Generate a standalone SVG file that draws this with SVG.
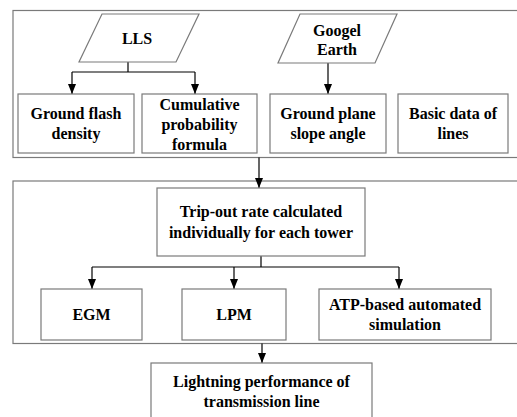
<svg xmlns="http://www.w3.org/2000/svg" width="517" height="417" viewBox="0 0 517 417">
<style>
.frame{fill:none;stroke:#7a7a7a;stroke-width:1.2}
.box{fill:#fff;stroke:#7a7a7a;stroke-width:1.2}
.c{fill:none;stroke:#000;stroke-width:1.2}
text{font-family:'Liberation Serif','DejaVu Serif',serif;font-weight:bold;font-size:16px;fill:#000;text-anchor:middle}
</style>
<defs>
<marker id="ah" viewBox="0 0 10 8" refX="10" refY="4" markerWidth="10" markerHeight="8" markerUnits="userSpaceOnUse" orient="auto">
<path d="M0,0 L10,4 L0,8 Z" fill="#000"/>
</marker>
</defs>
<rect fill="#fff" x="0" y="0" width="517" height="417"/>
<g id="frames">
<rect class="frame" x="13" y="10.5" width="520" height="147"/>
<rect class="frame" x="13" y="181" width="520" height="162.5"/>
</g>
<g id="connectors">
<path class="c" d="M128,62 V72 M72,72 H195"/>
<path class="c" d="M72,72 V94" marker-end="url(#ah)"/>
<path class="c" d="M195,72 V94" marker-end="url(#ah)"/>
<path class="c" d="M328,63 V94" marker-end="url(#ah)"/>
<path class="c" d="M259,157.5 V188" marker-end="url(#ah)"/>
<path class="c" d="M261,256 V267 M92,267 H399"/>
<path class="c" d="M92,267 V289" marker-end="url(#ah)"/>
<path class="c" d="M234,267 V289" marker-end="url(#ah)"/>
<path class="c" d="M399,267 V289" marker-end="url(#ah)"/>
<path class="c" d="M262,343.5 V363" marker-end="url(#ah)"/>
</g>
<g id="lls">
<polygon class="box" points="102,14 199,14 176,62 79,62"/>
<text x="137" y="44">LLS</text>
</g>
<g id="google">
<polygon class="box" points="300,14 397,14 375,63 278,63"/>
<text x="337" y="36">Googel</text>
<text x="337" y="55">Earth</text>
</g>
<g id="gfd">
<rect class="box" x="18" y="94" width="116" height="59"/>
<text x="76" y="119">Ground flash</text>
<text x="76" y="139">density</text>
</g>
<g id="cpf">
<rect class="box" x="142" y="94" width="115" height="59"/>
<text x="199.5" y="110">Cumulative</text>
<text x="199.5" y="130">probability</text>
<text x="199.5" y="150">formula</text>
</g>
<g id="gpsa">
<rect class="box" x="270" y="94" width="116" height="59"/>
<text x="328" y="119">Ground plane</text>
<text x="328" y="139">slope angle</text>
</g>
<g id="bdl">
<rect class="box" x="398" y="94" width="110" height="59"/>
<text x="453" y="119">Basic data of</text>
<text x="453" y="139">lines</text>
</g>
<g id="trip">
<rect class="box" x="157" y="188" width="208" height="68"/>
<text x="261" y="217">Trip-out rate calculated</text>
<text x="261" y="238">individually for each tower</text>
</g>
<g id="egm">
<rect class="box" x="41" y="289" width="101" height="51"/>
<text x="91.5" y="320">EGM</text>
</g>
<g id="lpm">
<rect class="box" x="182" y="289" width="104" height="51"/>
<text x="234" y="320">LPM</text>
</g>
<g id="atp">
<rect class="box" x="319" y="289" width="172" height="51"/>
<text x="405" y="310">ATP-based automated</text>
<text x="405" y="330">simulation</text>
</g>
<g id="lightning">
<rect class="box" x="151" y="363" width="221" height="60"/>
<text x="261.5" y="387">Lightning performance of</text>
<text x="261.5" y="407">transmission line</text>
</g>
</svg>
